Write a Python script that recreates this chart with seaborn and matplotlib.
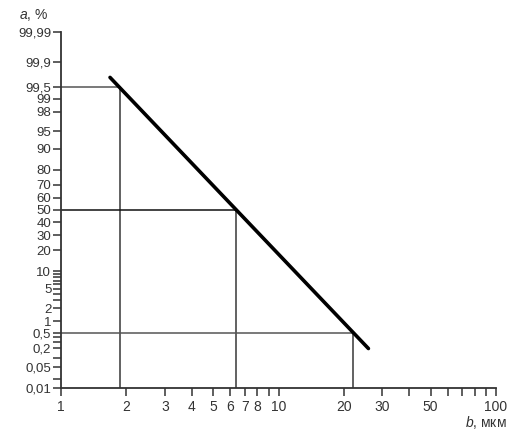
import numpy as np
import pandas as pd
import seaborn as sns
import matplotlib.pyplot as plt
from statistics import NormalDist

# data
b_line = [1.68, 25.9]        # b, мкм
a_line = [99.72, 0.19]       # a, %
b_ref = [1.86, 6.35, 22.0]   # reference sizes
a_ref = [99.5, 50.0, 0.5]

y_major = [0.01, 0.05, 0.2, 0.5, 1, 2, 5, 10, 20, 30, 40, 50, 60, 70, 80, 90, 95, 98, 99, 99.5, 99.9, 99.99]
y_labels = ["0,01", "0,05", "0,2", "0,5", "1", "2", "5", "10", "20", "30", "40", "50", "60", "70", "80", "90",
            "95", "98", "99", "99,5", "99,9", "99,99"]
y_minor = [0.02, 0.1, 0.3, 0.4, 3, 4, 6, 7, 8, 9]

x_ticks = [1, 2, 3, 4, 5, 6, 7, 8, 9, 10, 20, 30, 40, 50, 60, 70, 80, 90, 100]
x_labels = ["1", "2", "3", "4", "5", "6", "7", "8", "", "10", "20", "30", "", "50", "", "", "", "", "100"]

sns.set_style("ticks")
plt.rcParams['font.family'] = ['Liberation Sans', 'DejaVu Sans']
plt.rcParams['mathtext.fontset'] = 'custom'
plt.rcParams['mathtext.it'] = 'Liberation Sans:italic'
plt.rcParams['mathtext.rm'] = 'Liberation Sans'

nd = NormalDist()
_fwd = np.vectorize(lambda p: nd.inv_cdf(min(max(p / 100.0, 1e-12), 1 - 1e-12)), otypes=[float])
_inv = np.vectorize(lambda z: 100.0 * nd.cdf(z), otypes=[float])

def forward(p):
    return _fwd(np.asarray(p, dtype=float))

def inverse(z):
    return _inv(np.asarray(z, dtype=float))

fig = plt.figure(figsize=(5.18, 4.36), dpi=100)
ax = fig.add_axes([0.1178, 0.1101, 0.8398, 0.8165])
ax.set_xscale("log")
ax.set_yscale("function", functions=(forward, inverse))
ax.set_xlim(1, 100)
ax.set_ylim(0.01, 99.99)

# reference lines
ref_col = "#555555"
for bx, ay in zip(b_ref, a_ref):
    ax.plot([1, bx], [ay, ay], color=ref_col if ay != 50 else "#111111", lw=1.1, zorder=2)
    ax.plot([bx, bx], [0.01, ay], color=ref_col, lw=1.3, zorder=2)

df = pd.DataFrame({"b": b_line, "a": a_line})
sns.lineplot(data=df, x="b", y="a", sort=False, color="black", lw=2.6, ax=ax, zorder=3)

ax.set_yticks(y_major)
ax.set_yticklabels(y_labels)
ax.set_yticks(y_minor, minor=True)
ax.set_xticks(x_ticks)
ax.set_xticklabels(x_labels)
ax.xaxis.set_minor_locator(plt.NullLocator())

ax.tick_params(axis="both", which="both", colors="#333333", width=1.1)
ax.tick_params(axis="y", which="major", length=6, pad=1, labelsize=9.5)
ax.tick_params(axis="y", which="minor", length=6)
ax.tick_params(axis="x", which="major", length=6, pad=3, labelsize=10)

for s in ["top", "right"]:
    ax.spines[s].set_visible(False)
for s in ["left", "bottom"]:
    ax.spines[s].set_color("#333333")
    ax.spines[s].set_linewidth(1.3)

ax.set_xlabel("")
ax.set_ylabel("")
fig.text(0.064, 0.965, r"$\it{a}$, %", fontsize=10, color="#333333", ha="center", va="center")
fig.text(0.978, 0.032, r"$\it{b}$, мкм", fontsize=10, color="#333333", ha="right", va="center")

fig.savefig("out.png", dpi=100, facecolor="white")
